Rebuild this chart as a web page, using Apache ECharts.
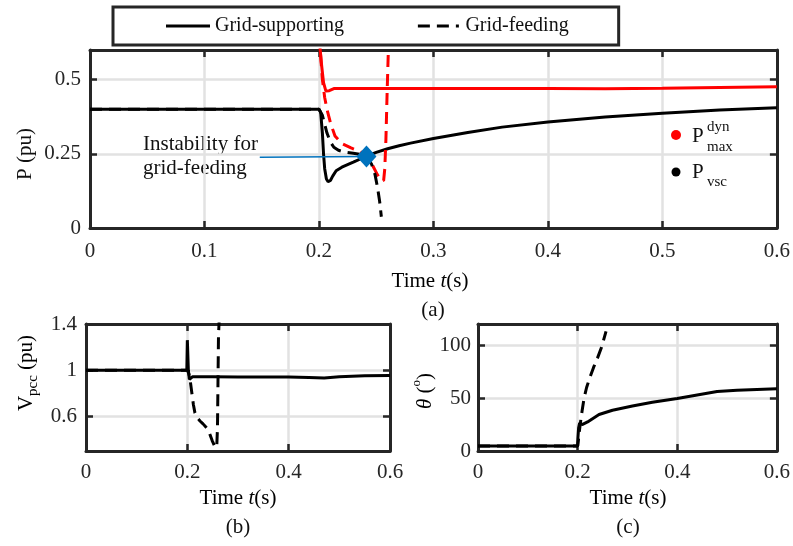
<!DOCTYPE html>
<html>
<head>
<meta charset="utf-8">
<script src="https://cdn.jsdelivr.net/npm/echarts@6/dist/echarts.min.js"></script>
<style>html,body{margin:0;padding:0;background:#fff}#c{width:793px;height:546px}</style>
</head>
<body>
<div id="c"></div>
<script>
// ---------- data ----------
// (a) active power, grid-supporting
const tPSup = [0, 0.2, 0.2015, 0.203, 0.204, 0.205, 0.2065, 0.208, 0.21, 0.212, 0.215, 0.22, 0.23, 0.241, 0.25, 0.26, 0.27, 0.28, 0.3, 0.33, 0.36, 0.4, 0.45, 0.5, 0.55, 0.6];
const pSup  = [0.4, 0.4, 0.39, 0.32, 0.25, 0.2, 0.165, 0.156, 0.16, 0.175, 0.193, 0.205, 0.222, 0.241, 0.255, 0.267, 0.277, 0.286, 0.302, 0.322, 0.34, 0.357, 0.374, 0.387, 0.398, 0.405];
// (a) active power, grid-feeding
const tPFeed = [0, 0.2, 0.2015, 0.203, 0.205, 0.207, 0.21, 0.213, 0.217, 0.222, 0.23, 0.237, 0.242, 0.246, 0.249, 0.251, 0.253, 0.2545];
const pFeed  = [0.4, 0.4, 0.395, 0.38, 0.35, 0.32, 0.29, 0.272, 0.262, 0.256, 0.252, 0.248, 0.24, 0.215, 0.18, 0.14, 0.09, 0.038];
// (a) dynamic max power, grid-supporting
const tPmaxSup = [0.2, 0.202, 0.204, 0.206, 0.209, 0.213, 0.25, 0.3, 0.35, 0.4, 0.45, 0.5, 0.55, 0.6];
const pmaxSup  = [0.65, 0.56, 0.49, 0.462, 0.463, 0.47, 0.47, 0.47, 0.47, 0.47, 0.469, 0.471, 0.474, 0.476];
// (a) dynamic max power, grid-feeding
const tPmaxFeed = [0.2, 0.2015, 0.203, 0.205, 0.207, 0.21, 0.214, 0.22, 0.228, 0.236, 0.242, 0.247, 0.251, 0.2545, 0.2565, 0.2575, 0.2585, 0.2595, 0.261];
const pmaxFeed  = [0.65, 0.58, 0.5, 0.44, 0.4, 0.355, 0.31, 0.285, 0.27, 0.258, 0.24, 0.21, 0.18, 0.16, 0.16, 0.2, 0.3, 0.45, 0.65];
// (a) instability marker and its pointer
const instabilityPoint = [0.2415, 0.241];
const pointerStart = [0.1483, 0.2386];
// (b) PCC voltage
const tVSup = [0, 0.199, 0.2, 0.2005, 0.202, 0.204, 0.206, 0.21, 0.25, 0.3, 0.35, 0.4, 0.44, 0.47, 0.5, 0.55, 0.6];
const vSup  = [1.0, 1.0, 1.26, 1.2, 1.0, 0.92, 0.935, 0.943, 0.943, 0.942, 0.942, 0.941, 0.936, 0.932, 0.943, 0.952, 0.955];
const tVFeed = [0, 0.2, 0.203, 0.206, 0.209, 0.212, 0.215, 0.219, 0.225, 0.231, 0.238, 0.244, 0.249, 0.254, 0.258, 0.2595, 0.2605, 0.2615, 0.263];
const vFeed  = [1, 1, 0.97, 0.9, 0.8, 0.7, 0.63, 0.59, 0.56, 0.535, 0.5, 0.45, 0.39, 0.34, 0.33, 0.5, 0.9, 1.3, 1.45];
// (c) angle
const tThSup = [0, 0.2, 0.2005, 0.202, 0.204, 0.206, 0.209, 0.212, 0.22, 0.243, 0.27, 0.31, 0.35, 0.4, 0.44, 0.48, 0.52, 0.56, 0.6];
const thSup  = [4.7, 4.7, 12, 22, 26.5, 27, 25, 25, 27.5, 34.5, 38.5, 42.5, 46, 49.7, 53, 56.3, 57.5, 58.2, 58.9];
const tThFeed = [0, 0.2, 0.2015, 0.203, 0.206, 0.209, 0.213, 0.218, 0.225, 0.232, 0.24, 0.248, 0.257];
const thFeed  = [4.7, 4.7, 10, 17, 28, 38, 50, 60, 70, 79, 88, 98, 113];
// ticks
const yTicksP = [0, 0.25, 0.5];
const yTicksV = [0.6, 1, 1.4];
const yTicksTh = [0, 50, 100];
const legendNames = ['Grid-supporting', 'Grid-feeding'];

// ---------- chart ----------
const zip = (t, v) => t.map((x, i) => [x, v[i]]);
const FONT = "'Liberation Serif', 'Times New Roman', serif";
const AX = '#262626';
const DASH = [12, 7];

function xAx(grid, max, interval, primary) {
  return {
    type: 'value', gridIndex: grid, min: 0, max: max, interval: interval,
    position: primary ? 'bottom' : 'top',
    axisLine: { show: true, onZero: false, lineStyle: { color: AX, width: 3 } },
    axisTick: { show: true, inside: true, length: 7, lineStyle: { color: AX, width: 2.5 } },
    axisLabel: { show: primary, color: AX, fontFamily: FONT, fontSize: 21, margin: grid === 0 ? 13 : 11 },
    splitLine: { show: primary, lineStyle: { color: '#e2e2e2', width: 2.5 } }
  };
}
function yAx(grid, min, max, ticks, primary, margin) {
  return {
    type: 'value', gridIndex: grid, min: min, max: max,
    position: primary ? 'left' : 'right',
    axisLine: { show: true, onZero: false, lineStyle: { color: AX, width: 3 } },
    axisTick: { show: true, inside: true, length: 7, customValues: ticks, lineStyle: { color: AX, width: 2.5 } },
    axisLabel: { show: primary, customValues: ticks, color: AX, fontFamily: FONT, fontSize: 21, margin: margin },
    splitLine: { show: primary, lineStyle: { color: '#e2e2e2', width: 2.5 } }
  };
}
function ln(name, xi, data, color, dashed, z) {
  return {
    name: name, type: 'line', xAxisIndex: xi, yAxisIndex: xi, data: data,
    symbol: 'none', showSymbol: false, clip: true, z: z || 2,
    lineStyle: { color: color, width: 3, type: dashed ? DASH : 'solid' },
    itemStyle: { color: color }
  };
}

const chart = echarts.init(document.getElementById('c'), null, { renderer: 'canvas' });
const txt = { fontFamily: FONT, fontSize: 21, fill: '#111' };
function rich(extra) {
  return Object.assign({
    n: { fontFamily: FONT, fontSize: 21, color: '#111', lineHeight: 30 },
    i: { fontFamily: FONT, fontSize: 21, fontStyle: 'italic', color: '#111', lineHeight: 30 }
  }, extra || {});
}
chart.setOption({
  animation: false,
  backgroundColor: '#fff',
  grid: [
    { left: 90, top: 50, width: 688, height: 178 },
    { left: 86, top: 324, width: 304, height: 127 },
    { left: 478, top: 324, width: 300, height: 127 }
  ],
  xAxis: [
    xAx(0, 0.6, 0.1, true), xAx(0, 0.6, 0.1, false),
    xAx(1, 0.6, 0.2, true), xAx(1, 0.6, 0.2, false),
    xAx(2, 0.6, 0.2, true), xAx(2, 0.6, 0.2, false)
  ],
  yAxis: [
    yAx(0, 0, 0.6, yTicksP, true, 9), yAx(0, 0, 0.6, yTicksP, false, 9),
    yAx(1, 0.3, 1.4, yTicksV, true, 9), yAx(1, 0.3, 1.4, yTicksV, false, 9),
    yAx(2, 0, 120, yTicksTh, true, 7), yAx(2, 0, 120, yTicksTh, false, 7)
  ],
  legend: {
    data: [
      { name: legendNames[0], icon: 'path://M0 0H44V3H0Z' },
      { name: legendNames[1], icon: 'path://M0 0H12V3H0Z M19 0H31V3H19Z M38 0H41V3H38Z' }
    ],
    left: 113, top: 7,
    padding: [9, 50, 9, 53],
    itemGap: 74, itemWidth: 44, itemHeight: 3,
    borderColor: '#262626', borderWidth: 3,
    itemStyle: { color: '#000' },
    textStyle: { fontFamily: FONT, fontSize: 20, color: '#111' },
    selectedMode: false
  },
  series: [
    ln('Pmax grid-supporting', 0, zip(tPmaxSup, pmaxSup), '#ff0000', false, 2),
    ln('Grid-supporting', 0, zip(tPSup, pSup), '#000000', false, 3),
    ln('Pmax grid-feeding', 0, zip(tPmaxFeed, pmaxFeed), '#ff0000', true, 4),
    ln('Grid-feeding', 0, zip(tPFeed, pFeed), '#000000', true, 5),
    {
      name: 'pointer', type: 'line', xAxisIndex: 0, yAxisIndex: 0,
      data: [pointerStart, instabilityPoint], symbol: 'none', z: 6,
      lineStyle: { color: '#0072BD', width: 1.6 }
    },
    {
      name: 'Instability', type: 'scatter', xAxisIndex: 0, yAxisIndex: 0,
      data: [instabilityPoint], symbol: 'diamond', symbolSize: [20, 22], z: 7,
      itemStyle: { color: '#0072BD', opacity: 1 }
    },
    ln('Vpcc grid-supporting', 2, zip(tVSup, vSup), '#000000', false, 3),
    ln('Vpcc grid-feeding', 2, zip(tVFeed, vFeed), '#000000', true, 4),
    ln('theta grid-supporting', 4, zip(tThSup, thSup), '#000000', false, 3),
    ln('theta grid-feeding', 4, zip(tThFeed, thFeed), '#000000', true, 4)
  ],
  graphic: [
    // axis titles (a)
    { type: 'text', x: 25, y: 154, rotation: Math.PI / 2, style: Object.assign({ text: 'P (pu)', align: 'center', verticalAlign: 'middle' }, txt) },
    { type: 'text', x: 430, y: 281, style: { text: '{n|Time }{i|t}{n|(s)}', rich: rich(), align: 'center', verticalAlign: 'middle' } },
    { type: 'text', x: 433, y: 310, style: Object.assign({ text: '(a)', align: 'center', verticalAlign: 'middle' }, txt) },
    // annotation
    { type: 'text', x: 143, y: 156, style: Object.assign({ text: 'Instability for\ngrid-feeding', align: 'left', verticalAlign: 'middle', lineHeight: 24 }, txt) },
    // inline legend of (a)
    { type: 'circle', shape: { cx: 676, cy: 135, r: 5 }, style: { fill: '#ff0000' } },
    { type: 'text', x: 692, y: 136, style: Object.assign({ text: 'P', align: 'left', verticalAlign: 'middle' }, txt) },
    { type: 'text', x: 707, y: 127, style: { text: 'dyn', fontFamily: FONT, fontSize: 15, fill: '#111', align: 'left', verticalAlign: 'middle' } },
    { type: 'text', x: 707, y: 147, style: { text: 'max', fontFamily: FONT, fontSize: 15, fill: '#111', align: 'left', verticalAlign: 'middle' } },
    { type: 'circle', shape: { cx: 676, cy: 172, r: 4.5 }, style: { fill: '#000' } },
    { type: 'text', x: 692, y: 172, style: Object.assign({ text: 'P', align: 'left', verticalAlign: 'middle' }, txt) },
    { type: 'text', x: 707, y: 182, style: { text: 'vsc', fontFamily: FONT, fontSize: 15, fill: '#111', align: 'left', verticalAlign: 'middle' } },
    // (b)
    { type: 'text', x: 26, y: 373, rotation: Math.PI / 2, style: {
        text: '{n|V}{s|pcc}{n| (pu)}', align: 'center', verticalAlign: 'middle',
        rich: rich({ s: { fontFamily: FONT, fontSize: 15, color: '#111', lineHeight: 15, verticalAlign: 'bottom' } }) } },
    { type: 'text', x: 238, y: 498, style: { text: '{n|Time }{i|t}{n|(s)}', rich: rich(), align: 'center', verticalAlign: 'middle' } },
    { type: 'text', x: 238, y: 527, style: Object.assign({ text: '(b)', align: 'center', verticalAlign: 'middle' }, txt) },
    // (c)
    { type: 'text', x: 425, y: 391, rotation: Math.PI / 2, style: {
        text: '{i|θ}{n| (}{u|o}{n|)}', align: 'center', verticalAlign: 'middle',
        rich: rich({ u: { fontFamily: FONT, fontSize: 13, color: '#111', lineHeight: 16, verticalAlign: 'top' } }) } },
    { type: 'text', x: 628, y: 498, style: { text: '{n|Time }{i|t}{n|(s)}', rich: rich(), align: 'center', verticalAlign: 'middle' } },
    { type: 'text', x: 628, y: 527, style: Object.assign({ text: '(c)', align: 'center', verticalAlign: 'middle' }, txt) }
  ]
});
</script>
</body>
</html>
